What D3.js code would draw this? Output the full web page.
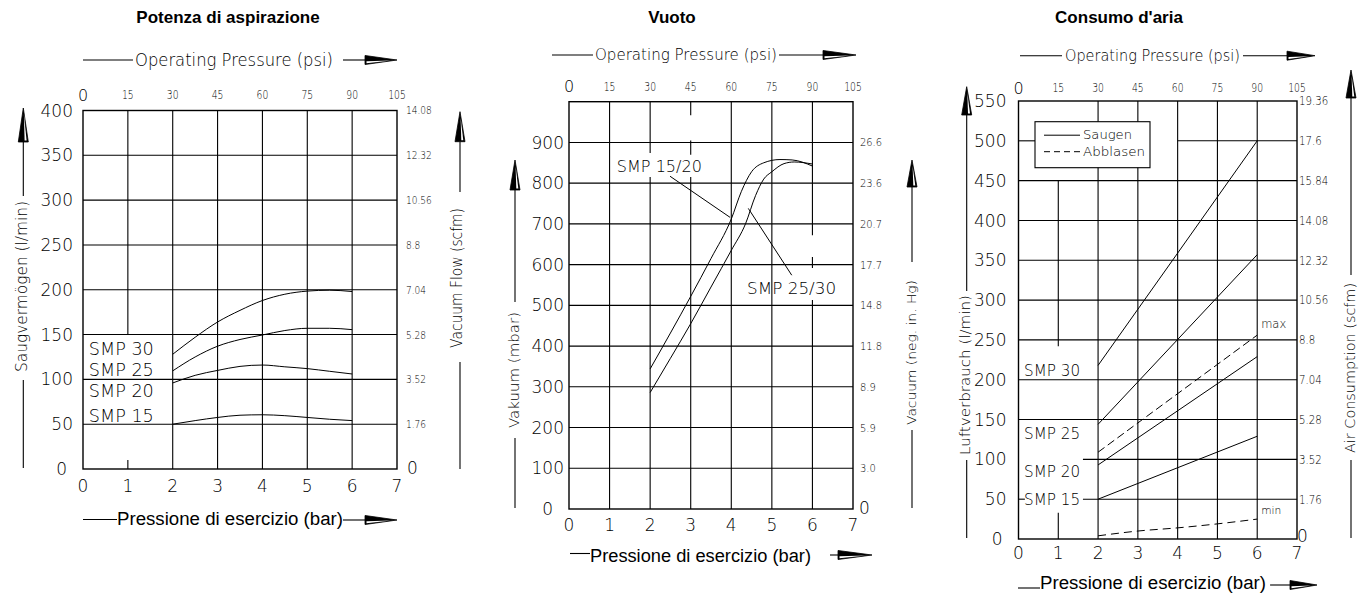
<!DOCTYPE html>
<html><head><meta charset="utf-8">
<script src="https://cdn.jsdelivr.net/npm/d3@7/dist/d3.min.js"></script>
<style>body{margin:0;background:#fff}svg{display:block}</style>
</head><body>
<svg id="c" width="1365" height="596"></svg>
<script>
// ---------------- DATA ----------------
const barTicks = [0,1,2,3,4,5,6,7];
const psiTicks = ["0","15","30","45","60","75","90","105"];

// Panel 1: Potenza di aspirazione (l/min)
const p1Ticks = [0,50,100,150,200,250,300,350,400];
const p1Scfm  = ["0","1.76","3.52","5.28","7.04","8.8","10.56","12.32","14.08"];
const p1Smp30 = [[2,128],[2.5,147],[3,164],[3.5,177],[4,188],[4.5,195],[5,198.5],[5.5,199.5],[6,198]];
const p1Smp25 = [[2,109.5],[2.5,125],[3,137],[3.5,144.5],[4,149.5],[4.5,154.5],[5,157],[5.5,157],[6,155.5]];
const p1Smp20 = [[2,96],[2.5,104.5],[3,110],[3.5,114.5],[4,116],[4.5,114],[5,112],[5.5,109],[6,106]];
const p1Smp15 = [[2,50],[2.5,54],[3,57.5],[3.5,60],[4,60.5],[4.5,59.5],[5,57.5],[5.5,55.5],[6,54]];
const p1Names = ["SMP 30","SMP 25","SMP 20","SMP 15"];

// Panel 2: Vuoto (mbar)
const p2Ticks = [0,100,200,300,400,500,600,700,800,900];
const p2InHg  = ["0","3.0","5.9","8.9","11.8","14.8","17.7","20.7","23.6","26.6"];
const p2Smp1520 = [[2,344],[2.5,432],[3,522],[3.5,615],[4,712],[4.25,780],[4.5,828],[4.8,850],[5.2,858],[5.5,857],[6,842]];
const p2Smp2530 = [[2,286],[2.5,370],[3,455],[3.5,545],[4,635],[4.35,700],[4.6,770],[4.8,810],[5,828],[5.3,848],[5.55,852],[6,847]];
const p2Names = ["SMP 15/20","SMP 25/30"];

// Panel 3: Consumo d'aria (l/min)
const p3Ticks = [0,50,100,150,200,250,300,350,400,450,500,550];
const p3Scfm  = ["0","1.76","3.52","5.28","7.04","8.8","10.56","12.32","14.08","15.84","17.6","19.36"];
const p3Saug30 = [[2,218],[6,500]];
const p3Saug25 = [[2,144],[6,357]];
const p3Saug20 = [[2,93],[6,229]];
const p3Saug15 = [[2,50],[6,129]];
const p3BlowMax = [[2,109],[6,256]];
const p3BlowMin = [[2,4],[3,10],[4,14],[5,19],[6,25]];
const p3Names = ["SMP 30","SMP 25","SMP 20","SMP 15"];
const p3Legend = ["Saugen","Abblasen"];

// ---------------- DRAWING ----------------
const svg = d3.select("#c");
const CAD = "'DejaVu Sans', sans-serif";
const ARIAL = "'Liberation Sans', Arial, sans-serif";
const SW = 1.1;

function txt(g, x, y, s, o = {}) {
  const t = g.append("text").attr("x", x).attr("y", y).text(s)
    .attr("font-family", o.family || CAD).attr("font-size", o.size || 14)
    .attr("font-weight", o.weight || (o.family ? "normal" : 300))
    .attr("text-anchor", o.anchor || "start").attr("fill", "#000");
  if (o.dy) t.attr("dy", o.dy);
  if (o.len) t.attr("textLength", o.len).attr("lengthAdjust", "spacingAndGlyphs");
  if (o.k) { const L = t.node().getComputedTextLength(); t.attr("textLength", L * o.k).attr("lengthAdjust", "spacingAndGlyphs"); }
  if (o.rotate) t.attr("transform", `rotate(-90 ${x} ${y})`);
  return t;
}
function ln(g, x1, y1, x2, y2, w) {
  return g.append("line").attr("x1", x1).attr("y1", y1).attr("x2", x2).attr("y2", y2)
    .attr("stroke", "#000").attr("stroke-width", w || SW);
}
function hArrow(g, xb, xt, y) {
  g.append("path").attr("d", `M${xb},${y-4.5}L${xt},${y}L${xb},${y+4.5}Z`)
    .attr("fill", "#000").attr("stroke", "#000").attr("stroke-width", 0.8);
  g.append("path").attr("d", `M${xb+1.5},${y+1.3}L${xt-6},${y+0.6}L${xb+1.5},${y+3.3}Z`).attr("fill", "#fff");
}
function vArrow(g, x, tip, base) {
  g.append("path").attr("d", `M${x-5},${base}L${x},${tip}L${x+5},${base}Z`)
    .attr("fill", "#000").attr("stroke", "#000").attr("stroke-width", 0.8);
  g.append("path").attr("d", `M${x+1.3},${base-1.5}L${x+0.6},${tip+6}L${x+3.3},${base-1.5}Z`).attr("fill", "#fff");
}
function vTitle(g, a) {
  vArrow(g, a.x, a.tip, a.base);
  ln(g, a.x, a.base, a.x, a.l1);
  txt(g, a.bx, (a.t0 + a.t1) / 2, a.text, {size: a.size, anchor: "middle", rotate: true, len: a.t1 - a.t0});
  ln(g, a.x, a.l2, a.x, a.l3);
}
function topTitle(g, a) {
  ln(g, a.l0, a.y, a.l1, a.y);
  txt(g, a.t0, a.by, "Operating Pressure (psi)", {size: a.size, len: a.t1 - a.t0});
  ln(g, a.l2, a.y, a.l3, a.y);
  hArrow(g, a.l3, a.tip, a.y);
}
function botTitle(g, a) {
  ln(g, a.l0, a.ly, a.l1, a.ly);
  txt(g, a.l1, a.by, "Pressione di esercizio (bar)", {family: ARIAL, size: 18, len: a.tlen});
  ln(g, a.l2, a.ay, a.l3, a.ay);
  hArrow(g, a.l3, a.tip, a.ay);
}

function frame(p) {
  const g = svg.append("g");
  const x = d3.scaleLinear([0, 7], [p.x0, p.x1]);
  const y = d3.scaleLinear([0, p.yMax], [p.yBot, p.yTop]);
  [1, 2, 3, 4, 5, 6].forEach(b => {
    const segs = (p.vSeg && p.vSeg[b]) || [[0, p.yMax]];
    segs.forEach(([a, c]) => ln(g, x(b), y(a), x(b), y(c)));
  });
  p.ticks.forEach(v => {
    if (v === 0 || v >= p.yMax) return;
    const segs = (p.hSeg && p.hSeg[v]) || [[0, 7]];
    segs.forEach(([a, c]) => ln(g, x(a), y(v), x(c), y(v)));
  });
  g.append("rect").attr("x", p.x0).attr("y", p.yTop).attr("width", p.x1 - p.x0).attr("height", p.yBot - p.yTop)
    .attr("fill", "none").attr("stroke", "#000").attr("stroke-width", 1.4);
  p.ticks.forEach(v => txt(g, v === 0 ? p.x0 - 16 : p.x0 - p.lOff, y(v), String(v), {size: 17, anchor: "end", dy: "0.36em"}));
  p.right.forEach((s, i) => {
    if (i === 0) txt(g, p.x1 + p.r0x, y(0) + p.r0dy, s, {size: 17, dy: "0.36em"});
    else txt(g, p.x1 + p.rOff, y(p.ticks[i]), s, {size: p.rSize, dy: "0.36em", k: p.rk});
  });
  psiTicks.forEach((s, i) => txt(g, x(i), p.psiY, s, i === 0 ? {size: 16, anchor: "middle", dy: "0.36em"} : {size: 11.5, anchor: "middle", dy: "0.36em", k: 0.8}));
  barTicks.forEach(b => txt(g, x(b), p.barY, String(b), {size: 17, anchor: "middle", dy: "0.36em"}));
  return {g, x, y};
}

// ---- Panel 1 ----
{
  const P = frame({x0: 83, x1: 397, yTop: 110.5, yBot: 469, yMax: 400, ticks: p1Ticks, right: p1Scfm,
    vSeg: {1: [[150, 400], [0, 10]]}, lOff: 10, rOff: 9, rSize: 11, rk: 0.82, r0x: 10, r0dy: -1, psiY: 95, barY: 486});
  const {g, x, y} = P;
  const line = d3.line().x(d => x(d[0])).y(d => y(d[1])).curve(d3.curveMonotoneX);
  [p1Smp30, p1Smp25, p1Smp20, p1Smp15].forEach(s =>
    g.append("path").attr("d", line(s)).attr("fill", "none").attr("stroke", "#000").attr("stroke-width", 1));
  const ly = [127, 104, 80.5, 52.7];
  p1Names.forEach((s, i) => txt(g, x(0.13), y(ly[i]), s, {size: 18, len: 65}));
  txt(svg, 228, 23, "Potenza di aspirazione", {family: ARIAL, size: 17, weight: "bold", anchor: "middle"});
  topTitle(svg, {y: 60, l0: 83, l1: 133, t0: 135, t1: 333, by: 65.5, size: 17, l2: 343, l3: 365, tip: 397});
  botTitle(svg, {l0: 83, l1: 117, ly: 519.5, by: 525, tlen: 226, l2: 343, l3: 365, ay: 520, tip: 397});
  vTitle(svg, {x: 23.3, tip: 108, base: 142, l1: 196, t0: 201, t1: 372, l2: 380, l3: 468, bx: 27, size: 15, text: "Saugvermögen (l/min)"});
  vTitle(svg, {x: 460, tip: 111.7, base: 141.7, l1: 192, t0: 208, t1: 348, l2: 362, l3: 469, bx: 462, size: 15, text: "Vacuum Flow (scfm)"});
}

// ---- Panel 2 ----
{
  const P = frame({x0: 569, x1: 853, yTop: 101.7, yBot: 509, yMax: 1000, ticks: p2Ticks, right: p2InHg,
    vSeg: {2: [[0, 815], [874, 1000]], 3: [[0, 815], [870, 905], [967, 1000]], 6: [[0, 513], [592, 619], [672, 1000]]},
    lOff: 5, rOff: 7, rSize: 11, rk: 0.9, r0x: 6, r0dy: -1, psiY: 86.7, barY: 525});
  const {g, x, y} = P;
  const line = d3.line().x(d => x(d[0])).y(d => y(d[1])).curve(d3.curveMonotoneX);
  [p2Smp1520, p2Smp2530].forEach(s =>
    g.append("path").attr("d", line(s)).attr("fill", "none").attr("stroke", "#000").attr("stroke-width", 1));
  ln(g, x(2.49), y(817), x(3.97), y(716), 1);
  ln(g, x(4.42), y(738), x(5.49), y(574), 1);
  txt(g, x(1.18), y(827), p2Names[0], {size: 16, len: 85});
  txt(g, x(4.39), y(528), p2Names[1], {size: 16, len: 89});
  txt(svg, 672, 23, "Vuoto", {family: ARIAL, size: 17, weight: "bold", anchor: "middle"});
  topTitle(svg, {y: 55, l0: 552, l1: 593, t0: 595, t1: 777, by: 60, size: 15, l2: 779, l3: 823, tip: 856});
  botTitle(svg, {l0: 570, l1: 590, ly: 553.5, by: 562, tlen: 221, l2: 830, l3: 838, ay: 555, tip: 872});
  vTitle(svg, {x: 515, tip: 160, base: 190, l1: 302, t0: 312, t1: 428, l2: 438, l3: 508, bx: 518.5, size: 14, text: "Vakuum (mbar)"});
  vTitle(svg, {x: 912, tip: 160, base: 187, l1: 262, t0: 280, t1: 425, l2: 430, l3: 508, bx: 915.5, size: 13, text: "Vacuum (neg. in. Hg)"});
}

// ---- Panel 3 ----
{
  const P = frame({x0: 1018.5, x1: 1297, yTop: 101, yBot: 539, yMax: 550, ticks: p3Ticks, right: p3Scfm,
    vSeg: {1: [[242, 450], [0, 33]]},
    hSeg: {500: [[0, 0.42], [4, 7]], 100: [[1.62, 7]], 50: [[0, 0.16], [1.62, 7]]},
    lOff: 12, rOff: 2, rSize: 12, rk: 0.85, r0x: 0, r0dy: -3, psiY: 88, barY: 553});
  const {g, x, y} = P;
  const line = d3.line().x(d => x(d[0])).y(d => y(d[1]));
  [p3Saug30, p3Saug25, p3Saug20, p3Saug15].forEach(s =>
    g.append("path").attr("d", line(s)).attr("fill", "none").attr("stroke", "#000").attr("stroke-width", 1));
  g.append("path").attr("d", line(p3BlowMax)).attr("fill", "none").attr("stroke", "#000").attr("stroke-width", 1).attr("stroke-dasharray", "8,4");
  g.append("path").attr("d", line.curve(d3.curveMonotoneX)(p3BlowMin)).attr("fill", "none").attr("stroke", "#000").attr("stroke-width", 1).attr("stroke-dasharray", "8,5");
  const ly = [205, 126, 78, 42.7];
  p3Names.forEach((s, i) => txt(g, x(0.14), y(ly[i]), s, {size: 15, len: 56}));
  txt(g, x(6.1), y(264.6), "max", {size: 12, len: 25});
  txt(g, x(6.1), y(31.4), "min", {size: 11, len: 20});
  // legend
  const lx = 1035, lyy = 121.7;
  g.append("rect").attr("x", lx).attr("y", lyy).attr("width", 115).attr("height", 46)
    .attr("fill", "#fff").attr("stroke", "#000").attr("stroke-width", 1.1);
  ln(g, lx + 9, lyy + 13.5, lx + 45, lyy + 13.5, 1);
  ln(g, lx + 9, lyy + 30, lx + 45, lyy + 30, 1).attr("stroke-dasharray", "6,4");
  txt(g, lx + 48, lyy + 17.5, p3Legend[0], {size: 13, len: 49});
  txt(g, lx + 48, lyy + 34, p3Legend[1], {size: 13, len: 62});
  txt(svg, 1119, 23, "Consumo d'aria", {family: ARIAL, size: 17, weight: "bold", anchor: "middle"});
  topTitle(svg, {y: 55.7, l0: 1020, l1: 1062, t0: 1065, t1: 1240, by: 61, size: 15, l2: 1243, l3: 1287, tip: 1315});
  botTitle(svg, {l0: 1018, l1: 1040, ly: 588, by: 589, tlen: 226, l2: 1270, l3: 1290, ay: 585, tip: 1317});
  vTitle(svg, {x: 966.7, tip: 86.7, base: 115, l1: 291, t0: 295, t1: 455, l2: 460, l3: 538, bx: 969.5, size: 14, text: "Luftverbrauch (l/min)"});
  vTitle(svg, {x: 1351, tip: 70, base: 98, l1: 275, t0: 283, t1: 453, l2: 460, l3: 538, bx: 1355, size: 14, text: "Air Consumption (scfm)"});
}
</script>
</body></html>
